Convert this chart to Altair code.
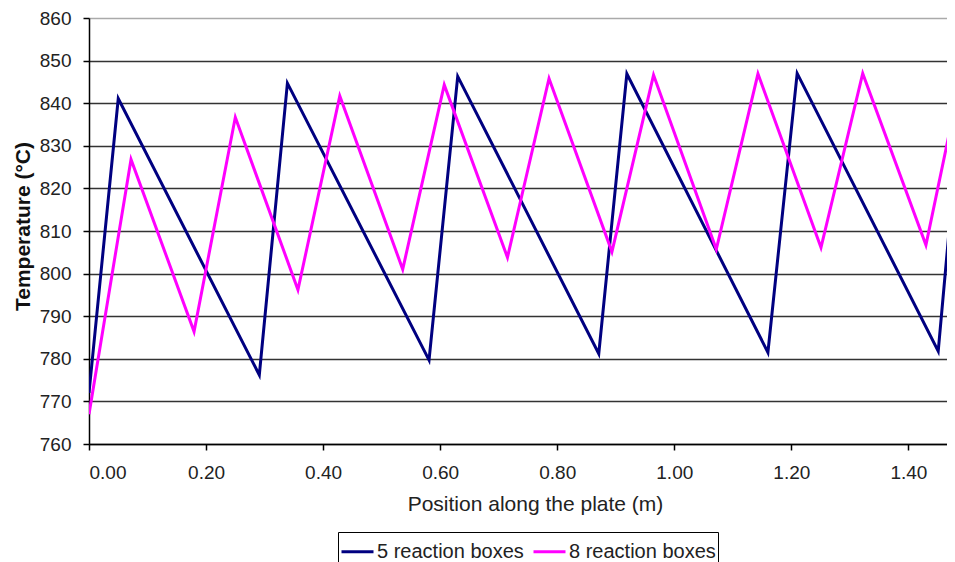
import altair as alt
import pandas as pd

# Series 1: 5 reaction boxes
pos_5 = [0.0, 0.050, 0.291, 0.339, 0.581, 0.630, 0.871, 0.919, 1.160, 1.210, 1.451, 1.480]
temp_5 = [772.0, 841.1, 776.2, 844.7, 779.7, 846.3, 781.2, 846.9, 781.5, 847.0, 781.8, 826.0]

# Series 2: 8 reaction boxes
pos_8 = [0.0, 0.0718, 0.1795, 0.250, 0.357, 0.4285, 0.536, 0.607, 0.715, 0.786,
         0.8935, 0.9646, 1.0718, 1.143, 1.2507, 1.322, 1.430, 1.480]
temp_8 = [767.0, 826.8, 786.4, 836.7, 796.2, 841.7, 801.0, 844.3, 803.8, 845.8,
          805.1, 846.6, 805.7, 846.9, 806.1, 847.0, 806.7, 839.6]

series_names = ["5 reaction boxes", "8 reaction boxes"]
series_colors = ["#000080", "#FF00FF"]
x_ticks = [0.0, 0.2, 0.4, 0.6, 0.8, 1.0, 1.2, 1.4]
y_ticks = [760, 770, 780, 790, 800, 810, 820, 830, 840, 850, 860]

rows = []
for i, (p, t) in enumerate(zip(pos_5, temp_5)):
    rows.append({"position": p, "temperature": t, "series": series_names[0], "order": i})
for i, (p, t) in enumerate(zip(pos_8, temp_8)):
    rows.append({"position": p, "temperature": t, "series": series_names[1], "order": i})
df = pd.DataFrame(rows)

FONT = "Liberation Sans"

chart = alt.Chart(df).mark_line(strokeWidth=3, clip=True).encode(
    x=alt.X(
        "position:Q",
        scale=alt.Scale(domain=[0, 1.466], nice=False, zero=False),
        axis=alt.Axis(
            values=x_ticks, format=".2f", title="Position along the plate (m)",
            grid=False, tickSize=6, tickColor="black", tickWidth=1.5,
            domainColor="black", domainWidth=1.5,
            labelPadding=13, labelFontSize=19, labelFont=FONT, labelColor="#222222",
            titleFontSize=21, titleFont=FONT, titleFontWeight="normal", titleColor="#222222",
            titleX=446, titleY=60, titleBaseline="middle",
        ),
    ),
    y=alt.Y(
        "temperature:Q",
        scale=alt.Scale(domain=[760, 860], nice=False, zero=False),
        axis=alt.Axis(
            values=y_ticks, format="d", title="Temperature (°C)",
            grid=True,
            gridColor={"condition": {"test": "datum.value >= 860", "value": "#aaaaaa"}, "value": "#333333"},
            gridWidth=1.5,
            tickSize=6, tickColor="black", tickWidth=1.5,
            domainColor="black", domainWidth=1.5,
            labelPadding=12, labelFontSize=19, labelFont=FONT, labelColor="#222222",
            titleFontSize=21, titleFont=FONT, titleFontWeight="bold", titleColor="#111111",
            titleX=-66, titleY=208, titleBaseline="middle", titleAlign="center",
        ),
    ),
    color=alt.Color(
        "series:N",
        scale=alt.Scale(domain=series_names, range=series_colors),
        legend=alt.Legend(
            title=None, orient="none", legendX=249, legendY=514,
            direction="horizontal", symbolType="stroke", symbolSize=1024,
            symbolStrokeWidth=3, labelFontSize=20, labelFont=FONT, labelColor="#222222",
            strokeColor="black", fillColor="white", padding=2, columnPadding=3,
            labelOffset=2,
        ),
    ),
    order="order:Q",
).properties(
    width=858,
    height=426,
    autosize=alt.AutoSizeParams(type="none"),
    padding={"left": 81, "top": 10, "right": 0, "bottom": 118},
).configure_view(
    strokeWidth=0
)

chart.save("out.html", embed_options={"renderer": "svg", "actions": False})
